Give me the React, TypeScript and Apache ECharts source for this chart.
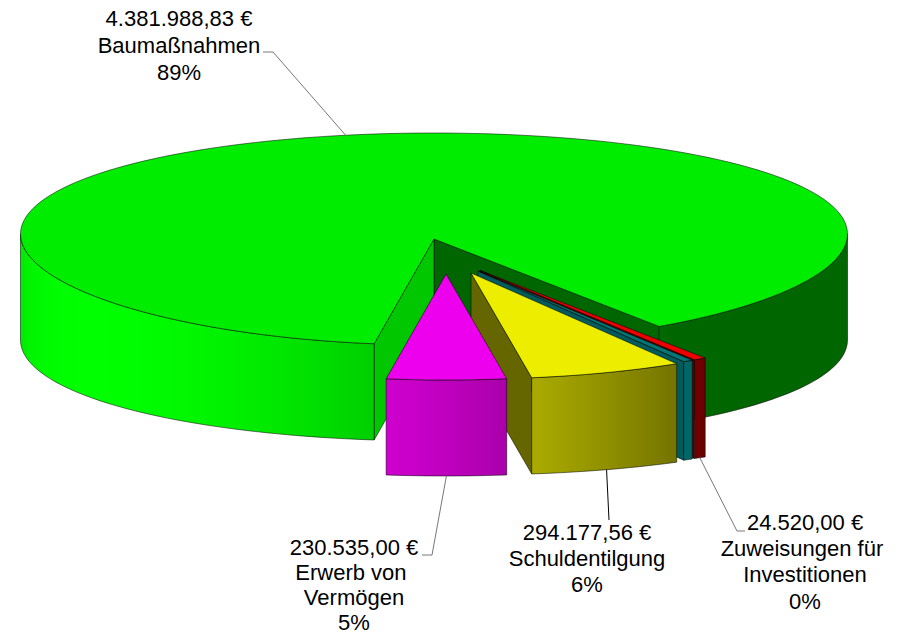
import React, { useEffect, useRef } from 'react';
import * as echarts from 'echarts';

// ---------- data ----------
const categories = ['Baumaßnahmen', 'Erwerb von Vermögen', 'Schuldentilgung', '', 'Zuweisungen für Investitionen'];
const values = [4381988.83, 230535.0, 294177.56, 19000.0, 24520.0];
const showLabel = [true, true, true, false, true];

// ---------- style / layout ----------
const baseColors = ['#00ff00', '#ff00ff', '#ffff00', '#008080', '#ff0000'];
const sideGain = [1, 1, 1, 1.8, 1];
const explodeOffsets = [[0, 0], [12, 35], [37, 34], [44, 32], [46, 31.5]];
const labelLayout: any[] = [
  { x: 179, y: 4.5, lh: 27, path: [[273, 52], [263, 52]], stroke: '#777' },
  { x: 354, y: 535, lh: 25, path: [[432, 555], [422, 555]], stroke: '#777' },
  { x: 587, y: 519, lh: 26, path: [[609, 520]], stroke: '#000' },
  null,
  { x: 805, y: 509, lh: 26.3, path: [[737, 531], [745, 531]], stroke: '#777' },
];

const CX = 434;
const CY = 239;
const RA = 413.5;
const RB = 106;
const H0 = 96;
const HK = 10;
const YK = 5;
const START = 33;

const rad = (d: number) => (d * Math.PI) / 180;

function pt(phi: number, r: number, z: number, off: number[]) {
  const s = Math.sin(rad(phi));
  const c = Math.cos(rad(phi));
  const rs = r * s;
  const x = CX + off[0] + RA * rs;
  const yTop = CY + off[1] + RB * r * c - YK * rs * rs;
  const h = H0 + HK * rs * rs;
  return [x, yTop + z * h];
}

function shade(hex: string, f: number) {
  const n = parseInt(hex.slice(1), 16);
  const r = (n >> 16) & 255, g = (n >> 8) & 255, b = n & 255;
  const c = (v: number) => Math.max(0, Math.min(255, Math.round(v * f)));
  return `rgb(${c(r)},${c(g)},${c(b)})`;
}

const light = (phi: number) => 0.4 + 0.6 * Math.max(0, Math.cos(rad(phi + 55)));

function visibleRanges(t1: number, t2: number) {
  const out: number[][] = [];
  for (let k = -1; k <= 2; k++) {
    const lo = Math.max(t1, -90 + 360 * k);
    const hi = Math.min(t2, 90 + 360 * k);
    if (hi > lo + 0.01) out.push([lo, hi]);
  }
  return out;
}

function fmtEuro(v: number) {
  const [i, d] = v.toFixed(2).split('.');
  return i.replace(/\B(?=(\d{3})+(?!\d))/g, '.') + ',' + d + ' €';
}

const total = values.reduce((s, v) => s + v, 0);
const starts: number[] = [];
{
  let acc = 0;
  values.forEach((v) => {
    starts.push(START + (acc / total) * 360);
    acc += v;
  });
}

const edge = { stroke: 'rgba(0,0,0,0.75)', lineWidth: 0.7, lineJoin: 'round' };

function renderItem(params: any, api: any) {
  const i = params.dataIndex;
  const v = api.value(0);
  const t1 = starts[i];
  const t2 = t1 + (v / total) * 360;
  const mid = (t1 + t2) / 2;
  const off = explodeOffsets[i];
  const base = baseColors[i];
  const g = sideGain[i];
  const zb = Math.round(1000 + 500 * Math.cos(rad(mid))) * 10;
  const children: any[] = [];

  if (Math.sin(rad(t1)) > 0) {
    children.push({
      type: 'polygon', z2: zb,
      shape: { points: [pt(t1, 0, 0, off), pt(t1, 1, 0, off), pt(t1, 1, 1, off), pt(t1, 0, 1, off)] },
      style: { fill: shade(base, 0.4 * g), ...edge },
    });
  }
  if (Math.sin(rad(t2)) < 0) {
    children.push({
      type: 'polygon', z2: zb,
      shape: { points: [pt(t2, 0, 0, off), pt(t2, 1, 0, off), pt(t2, 1, 1, off), pt(t2, 0, 1, off)] },
      style: { fill: shade(base, 0.78 * g), ...edge },
    });
  }
  for (const [p1, p2] of visibleRanges(t1, t2)) {
    const n = Math.max(2, Math.ceil((p2 - p1) / 2));
    const top: number[][] = [];
    const bot: number[][] = [];
    const phis: number[] = [];
    for (let k = 0; k <= n; k++) {
      const p = p1 + ((p2 - p1) * k) / n;
      phis.push(p);
      top.push(pt(p, 1, 0, off));
      bot.push(pt(p, 1, 1, off));
    }
    const xmin = top[0][0];
    const xmax = top[n][0];
    let fill: any;
    if (xmax - xmin < 2) {
      fill = shade(base, light((p1 + p2) / 2) * g);
    } else {
      const stops: any[] = [];
      for (let k = 0; k <= n; k++) {
        const o = Math.max(0, Math.min(1, (top[k][0] - xmin) / (xmax - xmin)));
        if (stops.length && o <= stops[stops.length - 1].offset) continue;
        stops.push({ offset: o, color: shade(base, light(phis[k]) * g) });
      }
      fill = { type: 'linear', x: 0, y: 0, x2: 1, y2: 0, colorStops: stops };
    }
    children.push({
      type: 'polygon', z2: zb + 1,
      shape: { points: top.concat(bot.slice().reverse()) },
      style: { fill, ...edge },
    });
  }
  const n = Math.max(2, Math.ceil((t2 - t1) / 2));
  const face: number[][] = [pt(t1, 0, 0, off)];
  for (let k = 0; k <= n; k++) face.push(pt(t1 + ((t2 - t1) * k) / n, 1, 0, off));
  children.push({
    type: 'polygon', z2: zb + 2,
    shape: { points: face },
    style: { fill: shade(base, 0.93), ...edge },
  });

  const L = labelLayout[i];
  if (showLabel[i] && L) {
    const anchor = Math.cos(rad(mid)) > 0 ? pt(mid, 1, 1, off) : pt(mid, 1, 0, off);
    children.push({
      type: 'polyline', z2: 30000,
      shape: { points: [anchor, ...L.path] },
      style: { stroke: L.stroke, lineWidth: 1, fill: null },
    });
    const pct = Math.round((v / total) * 100);
    children.push({
      type: 'text', z2: 30001, x: L.x, y: L.y,
      style: {
        text: `${fmtEuro(v)}\n${categories[i]}\n${pct}%`,
        fill: '#000',
        fontSize: 22,
        fontFamily: '"Liberation Sans", Arial, sans-serif',
        align: 'center',
        verticalAlign: 'top',
        lineHeight: L.lh,
        width: 190,
        overflow: 'break',
      },
    });
  }
  return { type: 'group', children };
}

export default function App() {
  const ref = useRef<HTMLDivElement>(null);
  useEffect(() => {
    if (!ref.current) return;
    const chart = echarts.init(ref.current, null, { renderer: 'svg' });
    chart.setOption({
      animation: false,
      backgroundColor: '#ffffff',
      series: [
        {
          type: 'custom',
          coordinateSystem: 'none',
          silent: true,
          renderItem,
          data: values.map((v, i) => ({ value: v, name: categories[i] })),
        },
      ],
    });
    return () => chart.dispose();
  }, []);
  return <div ref={ref} style={{ position: 'fixed', left: 0, top: 0, width: 904, height: 635 }} />;
}
